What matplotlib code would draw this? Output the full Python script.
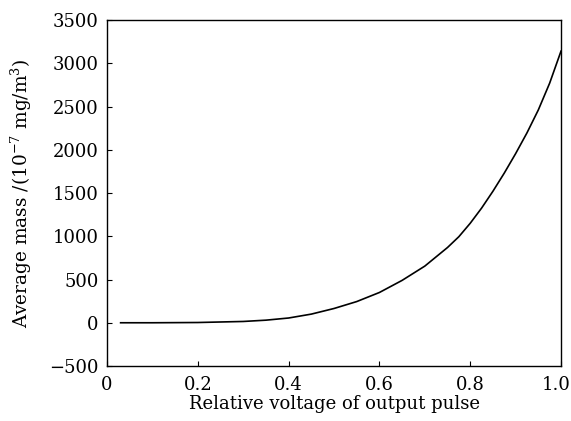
import matplotlib
matplotlib.use("Agg")
import matplotlib.pyplot as plt
import matplotlib.transforms as mtrans

voltage = [0.03, 0.10, 0.20, 0.30, 0.35, 0.40, 0.45, 0.50, 0.55, 0.60, 0.65,
           0.70, 0.75, 0.775, 0.80, 0.825, 0.85, 0.875, 0.90, 0.925, 0.95,
           0.975, 1.00]
avg_mass = [0, 0, 3, 15, 30, 55, 100, 165, 245, 350, 490,
            655, 870, 995, 1150, 1325, 1520, 1730, 1955, 2195, 2460,
            2770, 3140]

xticks = [0, 0.2, 0.4, 0.6, 0.8, 1.0]
xticklabels = ["0", "0.2", "0.4", "0.6", "0.8", "1.0"]
yticks = [-500, 0, 500, 1000, 1500, 2000, 2500, 3000, 3500]

plt.rcParams['font.family'] = ['DejaVu Serif']
plt.rcParams['mathtext.fontset'] = 'dejavuserif'

fig = plt.figure(figsize=(5.71, 4.21), dpi=100)
ax = fig.add_axes([0.1874, 0.1306, 0.7951, 0.8219])
ax.plot(voltage, avg_mass, color='black', lw=1.2)
ax.set_xlim(0, 1.0)
ax.set_ylim(-500, 3500)
ax.set_xticks(xticks)
ax.set_xticklabels(xticklabels)
ax.set_yticks(yticks)
ax.tick_params(direction='in', length=3.5, width=0.8, labelsize=13,
               top=False, right=False)
ax.tick_params(axis='x', pad=7)
ax.tick_params(axis='y', pad=6)
for s in ax.spines.values():
    s.set_linewidth(1.0)
ax.set_xlabel("Relative voltage of output pulse", fontsize=13, labelpad=1)
ax.set_ylabel(r"Average mass /(10$^{-7}$ mg/m$^{3}$)", fontsize=13.3, labelpad=11)

last = ax.get_xticklabels()[-1]
last.set_transform(last.get_transform() +
                   mtrans.ScaledTranslation(-5 / 100, 0, fig.dpi_scale_trans))
fig.savefig("out.png", dpi=100)
